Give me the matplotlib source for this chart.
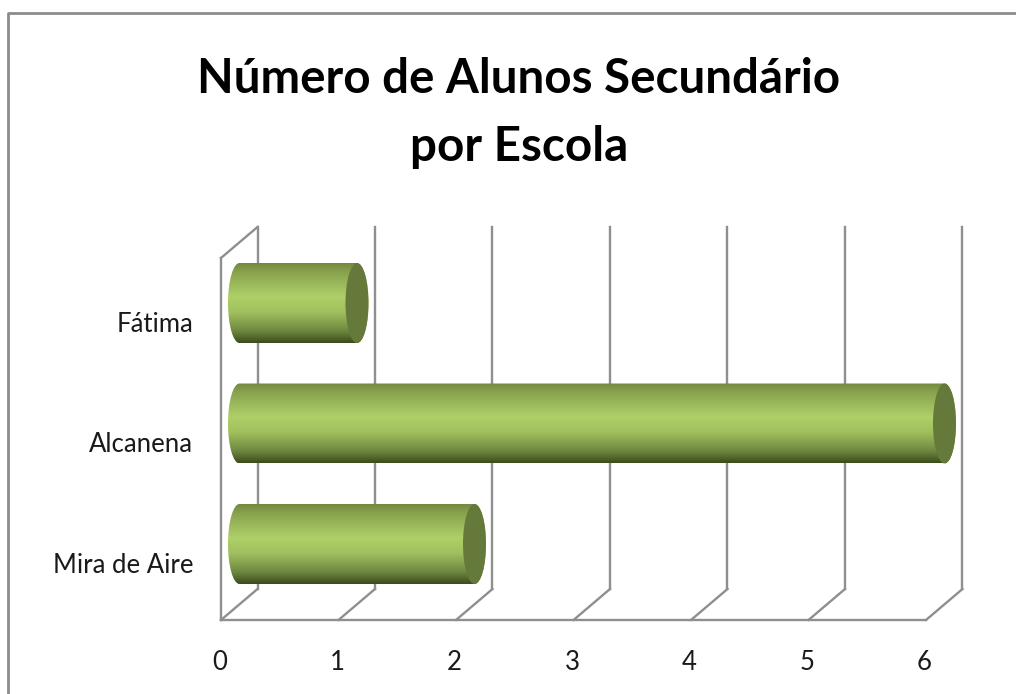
import matplotlib
matplotlib.use('Agg')
import matplotlib.pyplot as plt
import numpy as np
from matplotlib.colors import LinearSegmentedColormap
from matplotlib.lines import Line2D
from matplotlib.patches import Ellipse, PathPatch
from matplotlib.path import Path
from matplotlib.transforms import ScaledTranslation

categories = ['Mira de Aire', 'Alcanena', 'Fátima']
values = [2, 6, 1]
x_ticks = [0, 1, 2, 3, 4, 5, 6]
title = 'Número de Alunos Secundário\npor Escola'

W, H = 1016, 694
LEFT, RIGHT, BOTTOM, TOP = 221, 926, 620, 258
UX = (RIGHT - LEFT) / 6
UY = 120.5
Y0_PX = 544

GRID = '#8f8f8f'
CAP = '#65793a'

plt.rcParams['font.family'] = ['Lato', 'DejaVu Sans']

fig = plt.figure(figsize=(W / 100, H / 100), dpi=100)
fig.patch.set_facecolor('white')
ax = fig.add_axes([LEFT / W, 1 - BOTTOM / H, (RIGHT - LEFT) / W, (BOTTOM - TOP) / H])
ax.set_facecolor('none')
ax.set_xlim(0, 6)
ylim = (-(BOTTOM - Y0_PX) / UY, (Y0_PX - TOP) / UY)
ax.set_ylim(*ylim)

# depth of the fake 3d box
dx = 36.5 / UX
dy = 31 / UY
bottom, top = ylim

# back wall and floor
for t in x_ticks:
    ax.plot([t + dx, t + dx], [bottom + dy, top + dy], color=GRID, lw=1.7, zorder=1, clip_on=False)
    ax.plot([t, t + dx], [bottom, bottom + dy], color=GRID, lw=1.7, zorder=1, clip_on=False)
ax.plot([0, 6], [bottom, bottom], color=GRID, lw=1.7, zorder=1, clip_on=False)
ax.plot([0, 0], [bottom, top], color=GRID, lw=1.7, zorder=1, clip_on=False)
ax.plot([0, dx], [top, top + dy], color=GRID, lw=1.7, zorder=1, clip_on=False)

# cylinders
cmap = LinearSegmentedColormap.from_list('cyl', [
    (0.0, '#74893f'), (0.12, '#8aa44f'), (0.42, '#aed068'),
    (0.62, '#a0bf5e'), (0.85, '#6f8840'), (1.0, '#3c4c1c')])
grad = np.linspace(0, 1, 128).reshape(-1, 1)
bar_h = 80 / UY
cap_w = 23 / UX
shift = 18.5 / UX
k = 0.5523

for i, v in enumerate(values):
    x0 = shift
    x1 = v + shift
    y1 = i - bar_h / 2
    y2 = i + bar_h / 2
    a = cap_w / 2
    b = bar_h / 2
    verts = [(x0, y2), (x1, y2),
             (x1 + k * a, y2), (x1 + a, i + k * b), (x1 + a, i),
             (x1 + a, i - k * b), (x1 + k * a, y1), (x1, y1),
             (x0, y1),
             (x0 - k * a, y1), (x0 - a, i - k * b), (x0 - a, i),
             (x0 - a, i + k * b), (x0 - k * a, y2), (x0, y2),
             (x0, y2)]
    codes = [Path.MOVETO, Path.LINETO,
             Path.CURVE4, Path.CURVE4, Path.CURVE4,
             Path.CURVE4, Path.CURVE4, Path.CURVE4,
             Path.LINETO,
             Path.CURVE4, Path.CURVE4, Path.CURVE4,
             Path.CURVE4, Path.CURVE4, Path.CURVE4,
             Path.CLOSEPOLY]
    body = PathPatch(Path(verts, codes), facecolor='none', edgecolor='none', zorder=2, clip_on=False)
    ax.add_patch(body)
    im = ax.imshow(grad, cmap=cmap, extent=(x0 - a, x1 + a, y1, y2), origin='upper',
                   aspect='auto', vmin=0, vmax=1, zorder=2)
    im.set_clip_box(fig.bbox)
    im.set_clip_path(body)
    ax.add_patch(Ellipse((x1, i), cap_w, bar_h, facecolor=CAP, edgecolor='none', zorder=3, clip_on=False))

ax.set_xlim(0, 6)
ax.set_ylim(*ylim)

for s in ax.spines.values():
    s.set_visible(False)
ax.set_xticks(x_ticks)
ax.set_yticks(range(len(categories)))
ax.set_yticklabels(categories)
ax.tick_params(axis='both', length=0, labelsize=18.5, labelcolor='#1a1a1a')
ax.tick_params(axis='x', pad=21.5)
ax.tick_params(axis='y', pad=20)

# labels in the reference sit lower than the bars and the x labels a bit to the left
down = ScaledTranslation(0, -19 / 100, fig.dpi_scale_trans)
for lab in ax.get_yticklabels():
    lab.set_transform(lab.get_transform() + down)
left = ScaledTranslation(-1.5 / 100, 0, fig.dpi_scale_trans)
for lab in ax.get_xticklabels():
    lab.set_transform(lab.get_transform() + left)

fig.text(519 / W, 1 - 113 / H, title, ha='center', va='center', fontsize=34.2,
         fontweight='bold', color='black', linespacing=1.68)

# outer frame, cut by the image edge
fig.add_artist(Line2D([8 / W, 8 / W, 1], [0, 1 - 13 / H, 1 - 13 / H], color='#8c8c8c', lw=2))

fig.savefig('out.png', dpi=100)
